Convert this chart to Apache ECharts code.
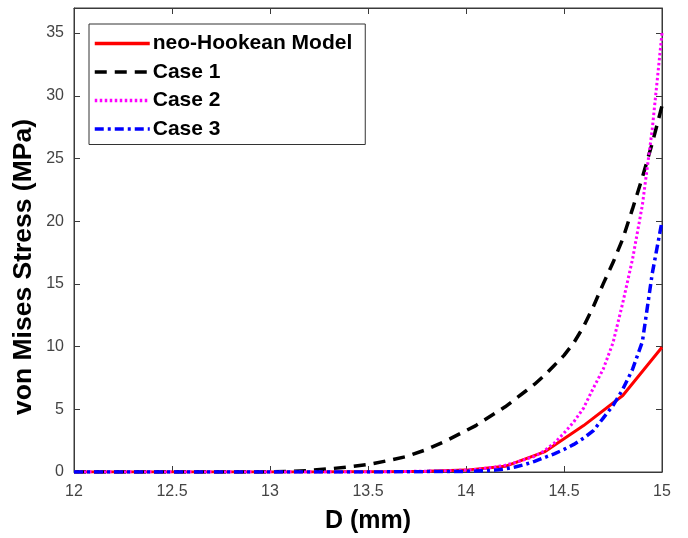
<!DOCTYPE html>
<html>
<head>
<meta charset="utf-8">
<script src="https://cdn.jsdelivr.net/npm/echarts@6/dist/echarts.min.js"></script>
<style>
html,body{margin:0;padding:0;background:#fff;}
#chart{width:688px;height:538px;}
</style>
</head>
<body>
<div id="chart"></div>
<script>
// ---- Data ----
var seriesNames = ['neo-Hookean Model', 'Case 1', 'Case 2', 'Case 3'];

// neo-Hookean model sampled every 0.2 mm
var neoD = [12.0, 12.2, 12.4, 12.6, 12.8, 13.0, 13.2, 13.4, 13.6, 13.8, 14.0, 14.2, 14.4, 14.6, 14.8, 15.0];
var neoStress = [0, 0, 0, 0, 0, 0, 0, 0.01, 0.02, 0.05, 0.15, 0.45, 1.6, 3.7, 6.1, 9.95];

// Cases sampled on a shared D grid
var caseD = [12.0, 12.5, 13.0, 13.1, 13.2, 13.3, 13.4, 13.5, 13.6, 13.7, 13.8, 13.9,
             14.0, 14.05, 14.1, 14.15, 14.2, 14.25, 14.3, 14.35, 14.4, 14.45, 14.5,
             14.55, 14.6, 14.65, 14.7, 14.75, 14.8, 14.85, 14.9, 14.95, 15.0];
var case1Stress = [0, 0, 0, 0.05, 0.12, 0.25, 0.4, 0.6, 0.9, 1.25, 1.8, 2.5,
                   3.3, 3.7, 4.2, 4.7, 5.2, 5.8, 6.4, 7.0, 7.7, 8.5, 9.3,
                   10.3, 11.6, 13.2, 15.0, 16.7, 18.6, 21.0, 23.5, 26.2, 29.2];
var case2Stress = [0, 0, 0, 0, 0, 0, 0, 0.01, 0.02, 0.04, 0.07, 0.1,
                   0.15, 0.2, 0.3, 0.4, 0.55, 0.75, 1.0, 1.25, 1.7, 2.3, 3.1,
                   4.0, 5.1, 6.7, 8.2, 10.3, 13.5, 17.0, 21.3, 27.3, 35.0];
var case3Stress = [0, 0, 0, 0, 0, 0, 0, 0, 0.01, 0.02, 0.03, 0.04,
                   0.05, 0.07, 0.1, 0.15, 0.25, 0.4, 0.6, 0.85, 1.15, 1.45, 1.8,
                   2.2, 2.7, 3.3, 4.3, 5.3, 6.6, 8.2, 10.4, 15.8, 20.0];

var xTicks = [12, 12.5, 13, 13.5, 14, 14.5, 15];
var yTicks = [0, 5, 10, 15, 20, 25, 30, 35];
var xTitle = 'D (mm)';
var yTitle = 'von Mises Stress (MPa)';

function zip(xs, ys) { return xs.map(function (x, i) { return [x, ys[i]]; }); }

var chart = echarts.init(document.getElementById('chart'), null, { renderer: 'canvas' });

var axisColor = '#3a3a3a';
var labelColor = '#444';
var fontFam = '"Liberation Sans", Arial, Helvetica, sans-serif';

var option = {
  backgroundColor: '#fff',
  animation: false,
  grid: { left: 74, right: 26, top: 8, bottom: 66, show: true, borderColor: axisColor, borderWidth: 1, backgroundColor: 'transparent' },
  legend: {
    orient: 'vertical',
    left: 89, top: 24,
    padding: [9, 13, 5, 4],
    itemWidth: 55, itemHeight: 20, itemGap: 7.5,
    backgroundColor: '#fff',
    borderColor: '#333', borderWidth: 1, borderRadius: 0,
    lineStyle: { width: 3.5 },
    itemStyle: { opacity: 0 },
    textStyle: { fontSize: 21, fontWeight: 'bold', color: '#000', fontFamily: fontFam, padding: [0, 0, 0, -2] },
    data: seriesNames.slice(),
    selectedMode: false
  },
  xAxis: [{
    type: 'value', min: xTicks[0], max: xTicks[xTicks.length - 1], interval: 0.5,
    axisLine: { show: true, onZero: false, lineStyle: { color: axisColor, width: 1 } },
    axisTick: { show: true, inside: true, length: 6, lineStyle: { color: axisColor } },
    splitLine: { show: false },
    axisLabel: { color: labelColor, fontSize: 16, fontFamily: fontFam, margin: 12 }
  }, {
    type: 'value', position: 'top', min: xTicks[0], max: xTicks[xTicks.length - 1], interval: 0.5,
    axisLine: { show: true, onZero: false, lineStyle: { color: axisColor, width: 1 } },
    axisTick: { show: true, inside: true, length: 6, lineStyle: { color: axisColor } },
    splitLine: { show: false }, axisLabel: { show: false }
  }],
  yAxis: [{
    type: 'value', min: 0, max: 37, interval: 5,
    axisLine: { show: true, onZero: false, lineStyle: { color: axisColor, width: 1 } },
    axisTick: { show: true, inside: true, length: 6, lineStyle: { color: axisColor } },
    splitLine: { show: false },
    axisLabel: { color: labelColor, fontSize: 16, fontFamily: fontFam, margin: 10, showMaxLabel: false,
      formatter: function (v) { return yTicks.indexOf(v) >= 0 ? String(v) : ''; } }
  }, {
    type: 'value', position: 'right', min: 0, max: 37, interval: 5,
    axisLine: { show: true, onZero: false, lineStyle: { color: axisColor, width: 1 } },
    axisTick: { show: true, inside: true, length: 6, lineStyle: { color: axisColor } },
    splitLine: { show: false }, axisLabel: { show: false }
  }],
  series: [
    { name: seriesNames[0], type: 'line', data: zip(neoD, neoStress), showSymbol: false, symbol: 'none',
      lineStyle: { color: '#ff0000', width: 3, type: 'solid' }, itemStyle: { color: '#ff0000' } },
    { name: seriesNames[1], type: 'line', data: zip(caseD, case1Stress), showSymbol: false, symbol: 'none',
      lineStyle: { color: '#000000', width: 3.5, type: [12, 8] }, itemStyle: { color: '#000000' } },
    { name: seriesNames[2], type: 'line', data: zip(caseD, case2Stress), showSymbol: false, symbol: 'none',
      lineStyle: { color: '#ff00ff', width: 3, type: [2.5, 2.5] }, itemStyle: { color: '#ff00ff' } },
    { name: seriesNames[3], type: 'line', data: zip(caseD, case3Stress), showSymbol: false, symbol: 'none',
      lineStyle: { color: '#0000ff', width: 3.5, type: [9, 4, 3, 4] }, itemStyle: { color: '#0000ff' } }
  ],
  graphic: [
    { type: 'text', x: 368, y: 521,
      style: { text: xTitle, font: 'bold 25px ' + fontFam, fill: '#000', align: 'center', verticalAlign: 'middle' } },
    { type: 'text', x: 24, y: 267, rotation: Math.PI / 2,
      style: { text: yTitle, font: 'bold 26.5px ' + fontFam, fill: '#000', align: 'center', verticalAlign: 'middle' } }
  ]
};
chart.setOption(option);
</script>
</body>
</html>
